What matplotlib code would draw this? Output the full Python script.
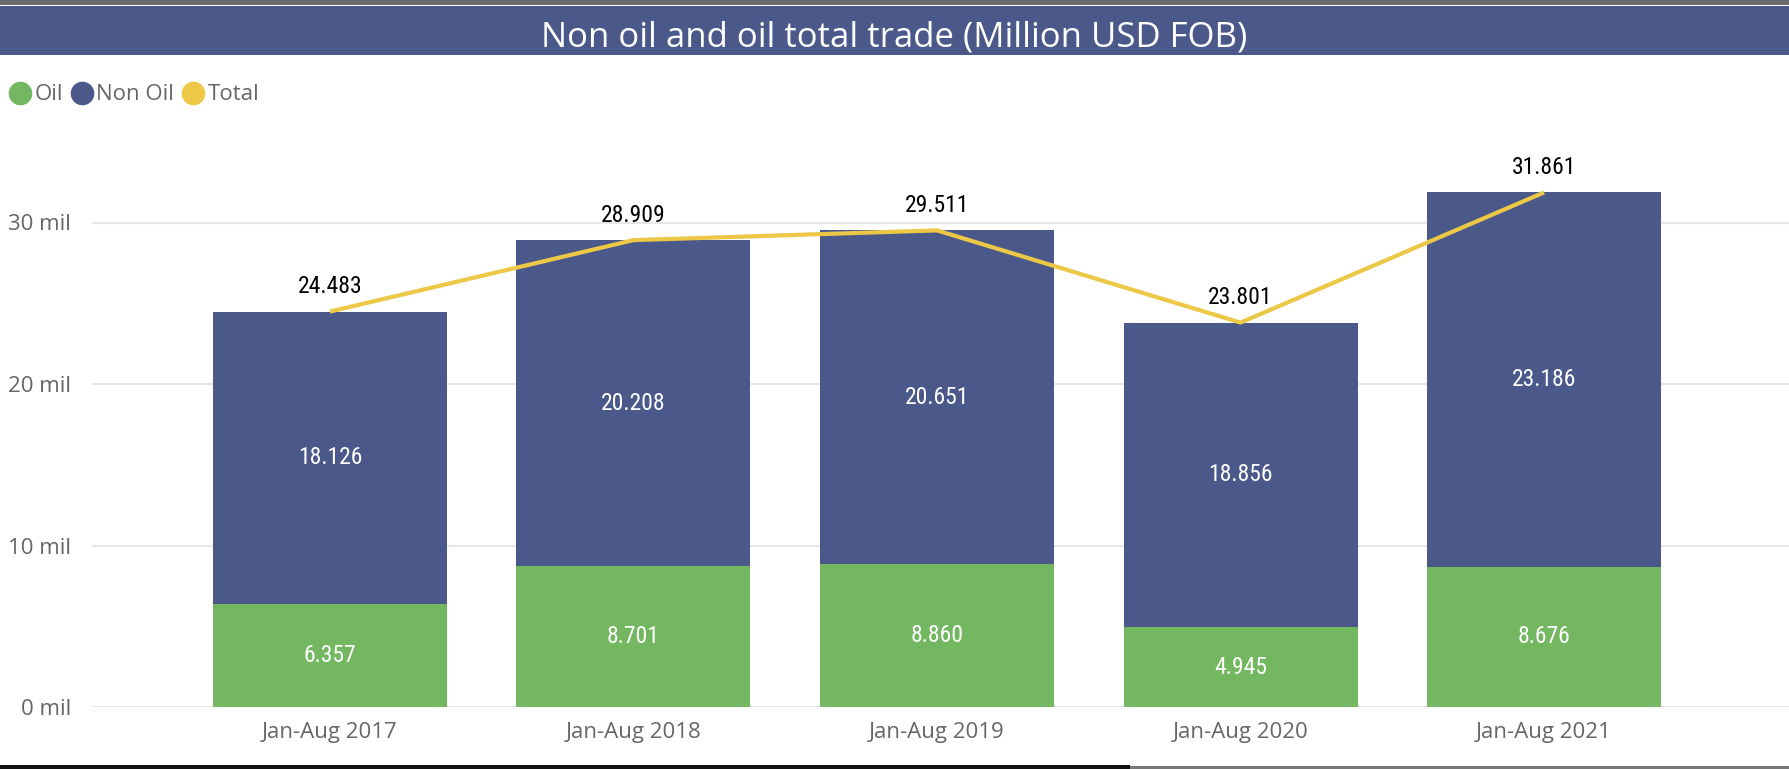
import matplotlib
matplotlib.use("Agg")
import matplotlib.pyplot as plt
from matplotlib import font_manager
from matplotlib.lines import Line2D
from matplotlib.patches import Rectangle

# data (values in thousands of million USD, shown as "mil")
periods = ["Jan-Aug 2017", "Jan-Aug 2018", "Jan-Aug 2019", "Jan-Aug 2020", "Jan-Aug 2021"]
oil = [6.357, 8.701, 8.860, 4.945, 8.676]
non_oil = [18.126, 20.208, 20.651, 18.856, 23.186]
total = [24.483, 28.909, 29.511, 23.801, 31.861]
y_ticks = [0, 10, 20, 30]

green = "#73B761"
navy = "#4A588A"
yellow = "#ECC846"
grey_txt = "#666666"

# pick a narrow face for the data labels if one is around
fonts = font_manager.fontManager.ttflist
names = {f.name for f in fonts}
narrow = None
for cand in ["Roboto Condensed", "Liberation Sans Narrow", "DejaVu Sans Condensed"]:
    if cand in names:
        narrow = dict(family=cand)
        break
if narrow is None:
    if any(f.name == "DejaVu Sans" and f.stretch == "condensed" for f in fonts):
        narrow = dict(family="DejaVu Sans", fontstretch="condensed")
    else:
        narrow = dict(family="DejaVu Sans")
ui_font = "Open Sans"

W, H = 1789, 769
fig = plt.figure(figsize=(W / 100, H / 100), dpi=100)

# top grey rule and title band
fig.patches.append(Rectangle((0, 1 - 5 / H), 1, 5 / H, transform=fig.transFigure,
                             facecolor="#6b6b6b", edgecolor="none"))
fig.patches.append(Rectangle((0, 1 - 55 / H), 1, 49 / H, transform=fig.transFigure,
                             facecolor=navy, edgecolor="none"))
fig.text(0.5, 1 - 38 / H, "Non oil and oil total trade (Million USD FOB)", ha="center", va="center",
         color="white", fontsize=25, family=ui_font)

# bottom rules
fig.patches.append(Rectangle((0, 0), 1130 / W, 4 / H, transform=fig.transFigure,
                             facecolor="#111111", edgecolor="none"))
fig.patches.append(Rectangle((1130 / W, 0), 1 - 1130 / W, 3 / H, transform=fig.transFigure,
                             facecolor="#777777", edgecolor="none"))

ax = fig.add_axes([92 / W, 62 / H, 1 - 92 / W, 36 * 16.15 / H])
x = list(range(len(periods)))
ax.bar(x, oil, width=0.771, color=green, zorder=2)
ax.bar(x, non_oil, width=0.771, bottom=oil, color=navy, zorder=2)
ax.plot(x, total, color=yellow, lw=3, zorder=3, solid_capstyle="butt")

for i in x:
    ax.text(i, oil[i] / 2, f"{oil[i]:.3f}", ha="center", va="center", color="white",
            fontsize=17, zorder=4, **narrow)
    ax.text(i, oil[i] + non_oil[i] / 2, f"{non_oil[i]:.3f}", ha="center", va="center",
            color="white", fontsize=17, zorder=4, **narrow)
    ax.annotate(f"{total[i]:.3f}", (i, total[i]), xytext=(0, 25), textcoords="offset pixels",
                ha="center", va="center", color="black", fontsize=17, zorder=4, **narrow)

ax.set_xlim(-0.784, 4.807)
ax.set_ylim(0, 36)
ax.set_yticks(y_ticks)
ax.set_yticklabels([f"{t} mil" for t in y_ticks])
ax.set_xticks(x)
ax.set_xticklabels(periods)
ax.grid(axis="y", color="#e6e6e6", lw=1.5, zorder=0)
ax.tick_params(length=0, labelsize=16, labelcolor=grey_txt)
ax.tick_params(axis="x", pad=11)
ax.tick_params(axis="y", pad=15)
for lab in ax.get_xticklabels() + ax.get_yticklabels():
    lab.set_family(ui_font)
for s in ax.spines.values():
    s.set_visible(False)

handles = [Line2D([], [], ls="none", marker="o", ms=16, color=c) for c in (green, navy, yellow)]
fig.legend(handles, ["Oil", "Non Oil", "Total"], loc="center left", bbox_to_anchor=(9 / W, 1 - 95 / H),
           ncol=3, frameon=False, borderpad=0, borderaxespad=0, handletextpad=0.15,
           columnspacing=0.35, handlelength=1.0,
           prop={"family": ui_font, "size": 16}, labelcolor=grey_txt)

fig.savefig("out.png", dpi=100)
